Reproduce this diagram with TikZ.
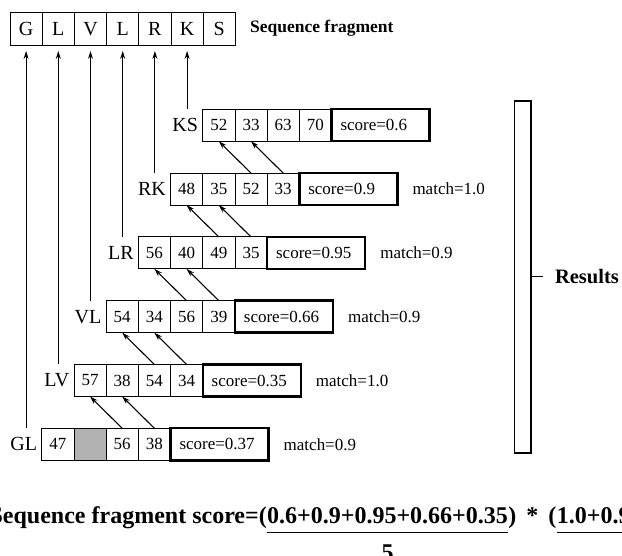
\documentclass[tikz,border=0pt]{standalone}
\usepackage{fontspec}
\setmainfont{Liberation Serif}
\usetikzlibrary{arrows.meta,positioning}

\tikzset{
  cell/.style={draw, line width=0.8pt, minimum width=32.2pt, minimum height=32pt,
    inner sep=0pt, outer sep=0pt, font=\fontsize{17}{20}\selectfont},
  seqcell/.style={cell, minimum height=32.5pt, font=\fontsize{20}{24}\selectfont},
  scorebox/.style={draw, line width=2.4pt, minimum width=98pt, minimum height=32pt,
    text width=80pt, inner xsep=9pt, inner ysep=0pt, outer sep=0pt, align=left,
    font=\fontsize{17}{20}\selectfont},
  rowlabel/.style={inner sep=0pt, font=\fontsize{20}{24}\selectfont},
  matchtext/.style={inner sep=0pt, font=\fontsize{17}{20}\selectfont},
  boldtext/.style={inner sep=0pt, font=\bfseries\fontsize{17.5}{21}\selectfont},
  formula/.style={inner sep=0pt, font=\bfseries\fontsize{24}{28}\selectfont},
  link/.style={-{Stealth[length=8pt,width=5pt]}, line width=1.1pt},
}

\begin{document}
\begin{tikzpicture}[x=1pt, y=-1pt]

    % Moldura (622 x 556)
    \useasboundingbox (0,0) rectangle (622,556);
    \clip (0,0) rectangle (622,556);

    % Fragmento da sequencia
    \foreach \k/\aa in {1/G,2/L,3/V,4/L,5/R,6/K,7/S}
        \node[seqcell] (seq\k) at (10+32.2*\k-16.1, 28.7) {\aa};
    \node[boldtext, right=14.5pt of seq7] (seqlab) {Sequence fragment};

    % Linhas de resultados: GL (0) ... KS (5)
    \foreach \i/\lab/\na/\nb/\nc/\nd/\fb/\sc in {
        0/GL/47//56/38/black!30/0.37,
        1/LV/57/38/54/34/white/0.35,
        2/VL/54/34/56/39/white/0.66,
        3/LR/56/40/49/35/white/0.95,
        4/RK/48/35/52/33/white/0.9,
        5/KS/52/33/63/70/white/0.6} {
        \pgfmathsetmacro\xs{41.7+32.2*\i}
        \pgfmathsetmacro\yc{444.3-63.8*\i}
        \node[cell] (row\i-1) at (\xs+16.1,\yc) {\na};
        \node[cell, fill=\fb] (row\i-2) at (\xs+48.3,\yc) {\nb};
        \node[cell] (row\i-3) at (\xs+80.5,\yc) {\nc};
        \node[cell] (row\i-4) at (\xs+112.7,\yc) {\nd};
        \node[scorebox, anchor=west] (score\i) at (row\i-4.east) {score=\sc};
        \node[rowlabel, left=4.5pt of row\i-1] (lab\i) {\lab};
    }

    % Valores de match (KS nao tem)
    \foreach \i/\m in {0/0.9,1/1.0,2/0.9,3/0.9,4/1.0}
        \node[matchtext, right=15pt of score\i] (match\i) {match=\m};

    % Setas verticais ate o fragmento
    \foreach \i in {0,...,5} {
        \pgfmathtruncatemacro\j{\i+1}
        \draw[link, shorten >=6pt] (seq\j.south |- row\i-1.north) -- (seq\j.south);
    }

    % Setas diagonais entre linhas vizinhas
    \foreach \i in {0,...,4} {
        \pgfmathtruncatemacro\j{\i+1}
        \draw[link] (row\i-3.north) -- (row\j-1.south);
        \draw[link] (row\i-4.north) -- (row\j-2.south);
    }

    % Chave de resultados
    \node[draw, line width=1.2pt, minimum width=16.7pt, minimum height=352pt,
          inner sep=0pt, outer sep=0pt] (bracket) at (522.7,277) {};
    \node[inner ysep=0pt, inner xsep=12pt, outer sep=0pt,
          font=\bfseries\fontsize{20.5}{25}\selectfont,
          right=12pt of bracket] (res) {Results};
    \draw[line width=1pt] (bracket) -- (res);

    % Formula do score (cortada nas bordas)
    \node[formula, anchor=base west] (numA) at (267,523) {0.6+0.9+0.95+0.66+0.35};
    \node[formula, anchor=base east] (pre) at (numA.base west) {Sequence fragment score=(};
    \node[formula, anchor=base west] (mid) at (numA.base east) {)\hspace{0.17em} * \hspace{0.17em}(};
    \node[formula, anchor=base west] (numB) at (mid.base east) {1.0+0.9+0.9+1.0+0.9)};
    \draw[line width=1.5pt] ([yshift=-9.7pt]numA.base west) -- ([yshift=-9.7pt]numA.base east);
    \draw[line width=1.5pt] ([yshift=-9.7pt]numB.base west) -- ([yshift=-9.7pt]numB.base east);
    \node[formula, anchor=north] (den) at ([yshift=-22pt]numA.base) {5};

\end{tikzpicture}
\end{document}
